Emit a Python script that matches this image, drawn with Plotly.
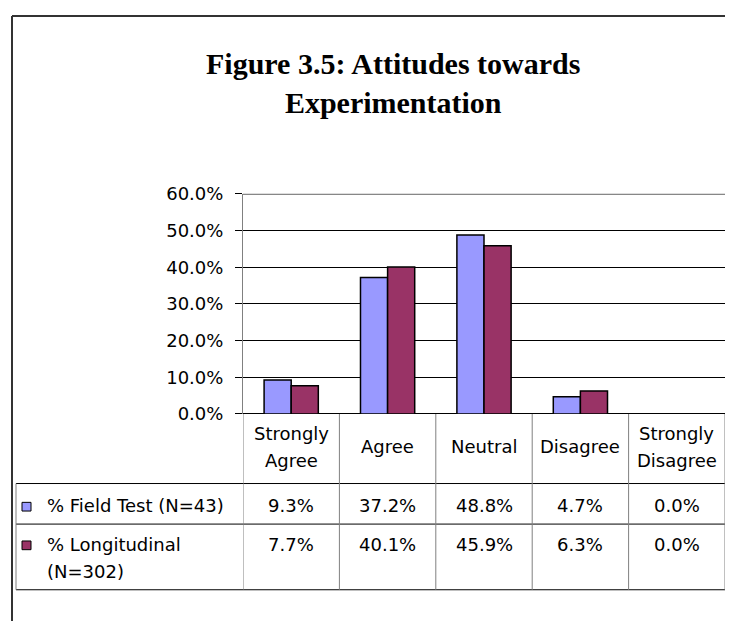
import plotly.graph_objects as go

categories = ["Strongly<br>Agree", "Agree", "Neutral", "Disagree", "Strongly<br>Disagree"]
series_names = ["% Field Test (N=43)", "% Longitudinal<br>(N=302)"]
field_test = [9.3, 37.2, 48.8, 4.7, 0.0]
longitudinal = [7.7, 40.1, 45.9, 6.3, 0.0]
colors = ["#9999FF", "#993366"]
y_ticks = [0, 10, 20, 30, 40, 50, 60]

# the page body has an 8px default margin; the figure fills the rest of the window
OFF = 8
W, H = 725, 613
FONT = "DejaVu Sans, Arial, sans-serif"
FS = 18
LINE = 28.5


def px(x):
    return (x - OFF) / W


def py(y):
    return 1 - (y - OFF) / H


fig = go.Figure()
idx = list(range(len(categories)))
for name, vals, col in zip(series_names, [field_test, longitudinal], colors):
    fig.add_trace(go.Bar(
        x=idx, y=vals, name=name,
        marker=dict(color=col, line=dict(color="black", width=1.5)),
        showlegend=False, hoverinfo="skip"))

fig.update_layout(
    width=W, height=H,
    margin=dict(l=0, r=0, t=0, b=0),
    paper_bgcolor="white", plot_bgcolor="white",
    barmode="group", bargap=0.4375, bargroupgap=0,
    xaxis=dict(domain=[px(243), px(725)], range=[-0.5, len(categories) - 0.5],
               showticklabels=False, showgrid=False, zeroline=False,
               showline=False, ticks=""),
    yaxis=dict(domain=[py(417), py(189)], range=[0, 60.05],
               tickvals=y_ticks, ticktext=[f"{v:.1f}%" for v in y_ticks],
               showgrid=True, gridcolor="black", gridwidth=1,
               zeroline=True, zerolinecolor="black", zerolinewidth=1,
               showline=True, linecolor="#808080", linewidth=1,
               ticks="outside", ticklen=7, tickcolor="black",
               ticklabelstandoff=8,
               tickfont=dict(family=FONT, size=FS, color="black")),
    font=dict(family=FONT, size=FS, color="black"),
)

shapes = []
# outer chart border (left and top)
shapes.append(dict(type="line", xref="paper", yref="paper", x0=px(12), x1=px(12), y0=py(5), y1=py(640),
                   line=dict(color="#333333", width=2)))
shapes.append(dict(type="line", xref="paper", yref="paper", x0=px(12), x1=px(760), y0=py(5), y1=py(5),
                   line=dict(color="#333333", width=2)))
# top gridline at the range end
shapes.append(dict(type="line", xref="paper", yref="y", x0=px(243), x1=px(725), y0=60, y1=60,
                   line=dict(color="black", width=1)))
# table horizontal lines
for yy in [489, 531, 599]:
    shapes.append(dict(type="line", xref="paper", yref="paper", x0=px(16), x1=px(725), y0=py(yy), y1=py(yy),
                       line=dict(color="black", width=1)))
# table left border
shapes.append(dict(type="line", xref="paper", yref="paper", x0=px(16), x1=px(16), y0=py(489), y1=py(599),
                   line=dict(color="#808080", width=1)))
# column separators along category boundaries
for k in range(len(categories) + 1):
    shapes.append(dict(type="line", xref="x", yref="paper", x0=k - 0.5, x1=k - 0.5, y0=py(417), y1=py(599),
                       line=dict(color="#808080", width=1)))

annotations = []
annotations.append(dict(text="<b>Figure 3.5: Attitudes towards<br>Experimentation</b>", xref="paper", yref="paper",
                        x=px(393), y=py(74), xanchor="center", yanchor="middle", showarrow=False,
                        font=dict(family="Times New Roman, Liberation Serif, serif", size=30, color="black")))


def add_lines(text, x, xref, y_center, y_first=None, xanchor="center"):
    lines = text.split("<br>")
    if y_first is None:
        y_first = y_center - (len(lines) - 1) * LINE / 2
    for j, ln in enumerate(lines):
        annotations.append(dict(text=ln, xref=xref, yref="paper", x=x, y=py(y_first + j * LINE),
                                xanchor=xanchor, yanchor="middle", showarrow=False,
                                font=dict(family=FONT, size=FS, color="black")))


# category header row
for i, c in enumerate(categories):
    add_lines(c, i, "x", 451)
# data rows
row_first = [512, 552]
for r, (name, vals, col) in enumerate(zip(series_names, [field_test, longitudinal], colors)):
    add_lines(name, px(45), "paper", None, y_first=row_first[r], xanchor="left")
    ky = row_first[r] + 1
    shapes.append(dict(type="rect", xref="paper", yref="paper", x0=px(22), x1=px(31), y0=py(ky - 4.5), y1=py(ky + 4.5),
                       fillcolor=col, line=dict(color="black", width=1)))
    for i, v in enumerate(vals):
        add_lines(f"{v:.1f}%", i, "x", None, y_first=row_first[r])

fig.update_layout(shapes=shapes, annotations=annotations)
fig.write_html("out.html")
